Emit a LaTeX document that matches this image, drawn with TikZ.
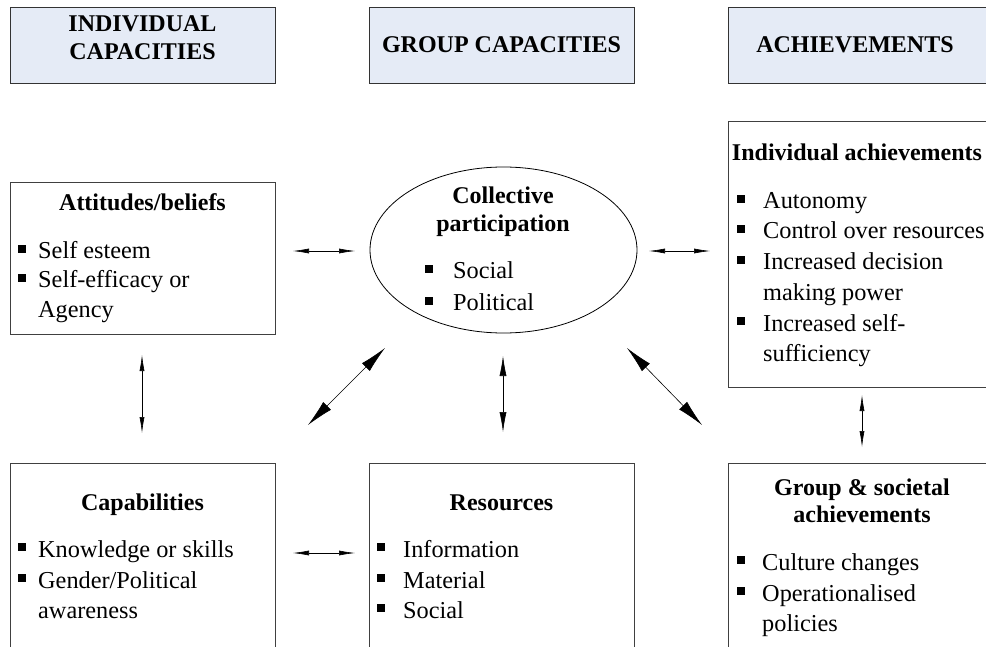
\documentclass[tikz,border=0pt]{standalone}
\usepackage{fontspec}
\setmainfont{Liberation Serif}
\usetikzlibrary{arrows.meta,shapes.geometric}
\definecolor{hdrblue}{RGB}{229,235,246}
\begin{document}
\begin{tikzpicture}[x=1pt,y=-1pt,
  hdr/.style={draw=black!80, line width=1pt, fill=hdrblue, minimum width=265pt, minimum height=76pt, inner sep=0pt},
  hdrtxt/.style={font=\fontsize{24}{28}\selectfont\bfseries, align=center, inner sep=0pt},
  box/.style={draw=black!75, line width=1pt, inner sep=0pt},
  ttl/.style={font=\fontsize{24}{27}\selectfont\bfseries, anchor=base, inner sep=0pt},
  itm/.style={font=\fontsize{24.3}{30}\selectfont, anchor=base west, inner sep=0pt},
  bul/.style={fill=black, minimum size=8pt, inner sep=0pt},
  sarr/.style={line width=0.6pt, {Latex[length=16pt,width=5pt]}-{Latex[length=16pt,width=5pt]}},
  marr/.style={line width=0.6pt, {Latex[length=20pt,width=7pt]}-{Latex[length=20pt,width=7pt]}},
  barr/.style={line width=0.6pt, {Latex[length=27pt,width=11pt]}-{Latex[length=27pt,width=11pt]}}
]
\clip (0,0) rectangle (986,647);
\fill[white] (0,0) rectangle (986,647);

% headers
\node[hdr] (h1) at (142.5,46) {};
\node[hdr] (h2) at (501.5,46) {};
\node[hdr] (h3) at (860.5,46) {};
\node[hdrtxt] (h1t) at (142.5,38) {INDIVIDUAL\\CAPACITIES};
\node[hdrtxt] (h2t) at (501.5,45) {GROUP CAPACITIES};
\node[hdrtxt] (h3t) at (855,45) {ACHIEVEMENTS};

% boxes
\node[box, minimum width=265pt, minimum height=151pt] (att) at (142.5,258.5) {};
\node[box, minimum width=265pt, minimum height=197pt] (cap) at (142.5,561.5) {};
\node[box, minimum width=265pt, minimum height=197pt] (res) at (501.5,561.5) {};
\node[box, minimum width=265pt, minimum height=265pt] (ind) at (860.5,254.5) {};
\node[box, minimum width=265pt, minimum height=197pt] (grp) at (860.5,561.5) {};
\node[draw=black, line width=0.8pt, ellipse, minimum width=267pt, minimum height=166pt, inner sep=0pt] (ell) at (503.5,250) {};

% Attitudes
\node[ttl] (attt) at (142.5,211) {Attitudes/beliefs};
\node[bul] (ab1) at (22,249) {};
\node[itm] (ai1) at (38,259) {Self esteem};
\node[bul] (ab2) at (22,278) {};
\node[itm] (ai2) at (38,288) {Self-efficacy or};
\node[itm] (ai3) at (38,317.5) {Agency};

% Collective participation
\node[ttl] (ellt1) at (503,204) {Collective};
\node[ttl] (ellt2) at (503,232) {participation};
\node[bul] (eb1) at (429,269) {};
\node[itm] (ei1) at (453,279) {Social};
\node[bul] (eb2) at (429,301) {};
\node[itm] (ei2) at (453,311) {Political};

% Individual achievements
\node[ttl] (indt) at (857,161) {Individual achievements};
\node[bul] (ib1) at (741,199) {};
\node[itm] (ii1) at (763,209) {Autonomy};
\node[bul] (ib2) at (741,229) {};
\node[itm] (ii2) at (763,239) {Control over resources};
\node[bul] (ib3) at (741,260) {};
\node[itm] (ii3) at (763,270) {Increased decision};
\node[itm] (ii4) at (763,300.5) {making power};
\node[bul] (ib5) at (741,321) {};
\node[itm] (ii5) at (763,331) {Increased self-};
\node[itm] (ii6) at (763,361.5) {sufficiency};

% Capabilities
\node[ttl] (capt) at (142.5,510) {Capabilities};
\node[bul] (cb1) at (22,547) {};
\node[itm] (ci1) at (38,557) {Knowledge or skills};
\node[bul] (cb2) at (22,578) {};
\node[itm] (ci2) at (38,588) {Gender/Political};
\node[itm] (ci3) at (38,618) {awareness};

% Resources
\node[ttl] (rest) at (501.5,510) {Resources};
\node[bul] (rb1) at (381,547) {};
\node[itm] (ri1) at (403,557) {Information};
\node[bul] (rb2) at (381,578) {};
\node[itm] (ri2) at (403,588) {Material};
\node[bul] (rb3) at (381,608) {};
\node[itm] (ri3) at (403,618) {Social};

% Group & societal achievements
\node[ttl] (grpt1) at (862,495) {Group \& societal};
\node[ttl] (grpt2) at (862,522) {achievements};
\node[bul] (gb1) at (741,560) {};
\node[itm] (gi1) at (762,570) {Culture changes};
\node[bul] (gb2) at (741,591) {};
\node[itm] (gi2) at (762,601) {Operationalised};
\node[itm] (gi3) at (762,631.5) {policies};

% arrow end points
\coordinate (a1s) at (293,251); \coordinate (a1e) at (355,251);
\coordinate (a2s) at (649,251); \coordinate (a2e) at (710,251);
\coordinate (a3s) at (142,355); \coordinate (a3e) at (142,433);
\coordinate (a4s) at (293,553); \coordinate (a4e) at (355,553);
\coordinate (a5s) at (862,395); \coordinate (a5e) at (862,447);
\coordinate (a6s) at (385,348); \coordinate (a6e) at (308,425);
\coordinate (a7s) at (503,356); \coordinate (a7e) at (503,432);
\coordinate (a8s) at (627,348); \coordinate (a8e) at (702,425);

\draw[sarr] (a1s) -- (a1e);
\draw[sarr] (a2s) -- (a2e);
\draw[sarr] (a3s) -- (a3e);
\draw[sarr] (a4s) -- (a4e);
\draw[sarr] (a5s) -- (a5e);
\draw[barr] (a6s) -- (a6e);
\draw[marr] (a7s) -- (a7e);
\draw[barr] (a8s) -- (a8e);
\end{tikzpicture}
\end{document}
